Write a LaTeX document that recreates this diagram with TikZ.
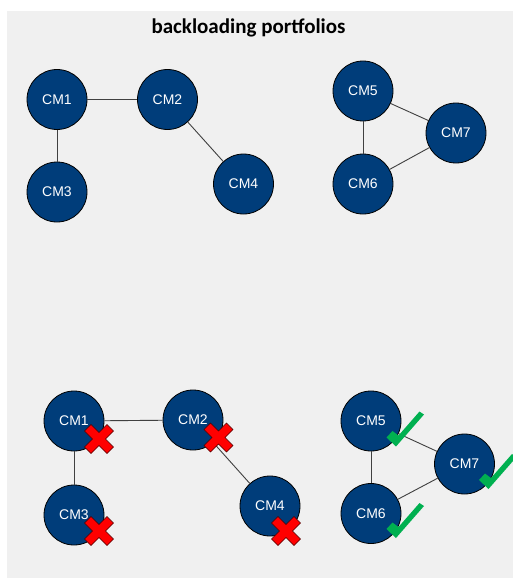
\documentclass[tikz,border=0pt]{standalone}
\usepackage{fontspec}
\setmainfont{Liberation Sans}
\newfontfamily\titlefont{Carlito}
\definecolor{bgc}{HTML}{F0F0F0}
\definecolor{nodec}{HTML}{003D7A}
\definecolor{edgec}{HTML}{404040}
\definecolor{xred}{HTML}{FF0000}
\definecolor{okgreen}{HTML}{00B050}
\tikzset{
  cmnode/.style={circle, draw=black, line width=0.8pt, fill=nodec, minimum size=60pt, inner sep=0pt,
    text=white, font=\fontsize{14pt}{16pt}\selectfont},
  link/.style={draw=edgec, line width=0.9pt},
  xmark/.pic={\filldraw[fill=xred, draw=black!70!red, line width=0.6pt]
    (0,-6.5) -- (8,-14.5) -- (14.5,-8) -- (6.5,0) -- (14.5,8) -- (8,14.5) -- (0,6.5)
    -- (-8,14.5) -- (-14.5,8) -- (-6.5,0) -- (-14.5,-8) -- (-8,-14.5) -- cycle;},
  okmark/.pic={\fill[okgreen]
    (0,1) -- (-9.5,-8) -- (-3.5,-14.5) -- (2.5,-10) -- (23.5,-34) -- (28,-31) -- cycle;}
}
\begin{document}
\begin{tikzpicture}[x=1pt,y=-1pt]
\useasboundingbox (0,0) rectangle (513,578);
\fill[bgc] (7,11) rectangle (513,578);
\node[font=\titlefont\bfseries\fontsize{21pt}{24pt}\selectfont, anchor=base] (title) at (248.5,34) {backloading portfolios};
% top group
\node[cmnode] (a1) at (57,99.5) {CM1};
\node[cmnode] (a2) at (167.5,99.5) {CM2};
\node[cmnode] (a3) at (57,192) {CM3};
\node[cmnode] (a4) at (243.5,184) {CM4};
\node[cmnode] (a5) at (363,91) {CM5};
\node[cmnode] (a7) at (456,133) {CM7};
\node[cmnode] (a6) at (363,184) {CM6};
\draw[link] (a1) -- (a2);
\draw[link] (a1) -- (a3);
\draw[link] (a2) -- (a4);
\draw[link] (a5) -- (a6);
\draw[link] (a5) -- (a7);
\draw[link] (a6) -- (a7);
% bottom group
\node[cmnode] (b1) at (74,421) {CM1};
\node[cmnode] (b2) at (193,420) {CM2};
\node[cmnode] (b3) at (74,515) {CM3};
\node[cmnode] (b4) at (270,506) {CM4};
\node[cmnode] (b5) at (371,421) {CM5};
\node[cmnode] (b7) at (464.5,464) {CM7};
\node[cmnode] (b6) at (371,513.5) {CM6};
\draw[link] (b1) -- (b2);
\draw[link] (b1) -- (b3);
\draw[link] (b2) -- (b4);
\draw[link] (b5) -- (b6);
\draw[link] (b5) -- (b7);
\draw[link] (b6) -- (b7);
% marks
\pic at ([shift={(25,18)}]b1.center) {xmark};
\pic at ([shift={(25.5,17.5)}]b2.center) {xmark};
\pic at ([shift={(25,16)}]b3.center) {xmark};
\pic at ([shift={(16,25)}]b4.center) {xmark};
\pic at ([shift={(25,24.5)}]b5.center) {okmark};
\pic at ([shift={(24,24)}]b7.center) {okmark};
\pic at ([shift={(25,23.5)}]b6.center) {okmark};
\end{tikzpicture}
\end{document}
